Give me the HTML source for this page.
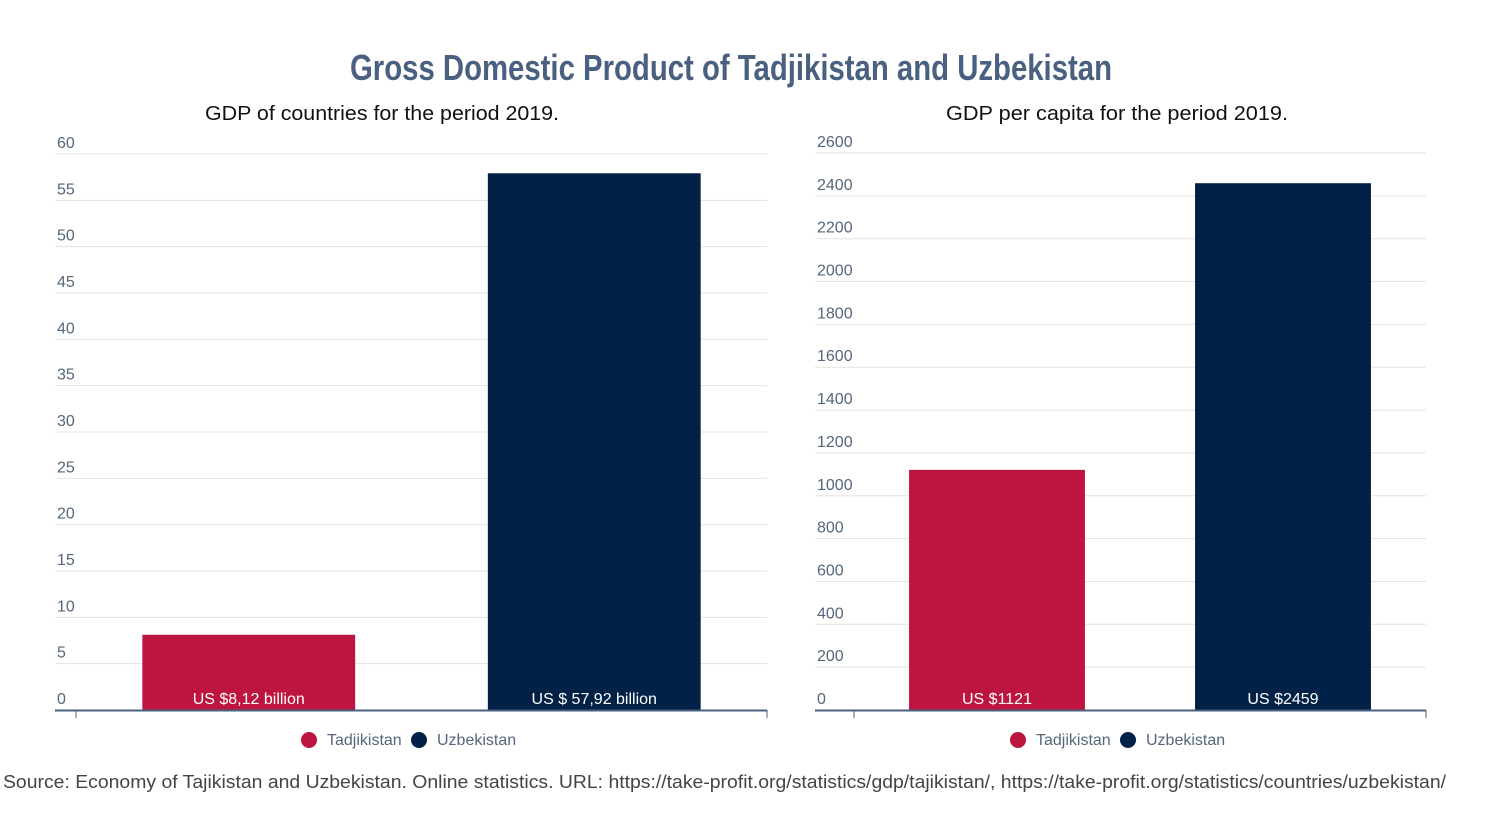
<!DOCTYPE html>
<html><head><meta charset="utf-8">
<style>
body{margin:0;background:#fff;}
svg{display:block;font-family:"Liberation Sans",sans-serif;}
</style></head>
<body>
<svg width="1500" height="827" viewBox="0 0 1500 827">
<text x="350" y="80" textLength="762" lengthAdjust="spacingAndGlyphs" font-family="'Liberation Sans Narrow','Liberation Sans',sans-serif" font-weight="bold" font-size="36" fill="#4a6080">Gross Domestic Product of Tadjikistan and Uzbekistan</text>
<text x="205" y="120" textLength="354" lengthAdjust="spacingAndGlyphs" font-size="20" fill="#111">GDP of countries for the period 2019.</text>
<text x="946" y="120" textLength="342" lengthAdjust="spacingAndGlyphs" font-size="20" fill="#111">GDP per capita for the period 2019.</text>
<g id="left"></g>
<g id="right"></g>
<text x="3" y="788" textLength="1443" lengthAdjust="spacingAndGlyphs" font-size="18" fill="#444">Source: Economy of Tajikistan and Uzbekistan. Online statistics. URL: https://take-profit.org/statistics/gdp/tajikistan/, https://take-profit.org/statistics/countries/uzbekistan/</text>
</svg>
<script>
const categories = ["Tadjikistan", "Uzbekistan"];
const gdpValues = [8.12, 57.92];
const gdpLabels = ["US $8,12 billion", "US $ 57,92 billion"];
const gdpTicks = [0,5,10,15,20,25,30,35,40,45,50,55,60];
const capitaValues = [1121, 2459];
const capitaLabels = ["US $1121", "US $2459"];
const capitaTicks = [0,200,400,600,800,1000,1200,1400,1600,1800,2000,2200,2400,2600];
const colors = ["#bd1540", "#022147"];
const NS = "http://www.w3.org/2000/svg";
function mk(tag, attrs, parent, text){
  const e = document.createElementNS(NS, tag);
  for (const k in attrs) e.setAttribute(k, attrs[k]);
  if (text !== undefined) e.textContent = text;
  parent.appendChild(e); return e;
}
function drawChart(g, cfg){
  const {x0,x1,yTop,yBase,labelX,ticks,values,labels,barFrac,legendX} = cfg;
  const max = ticks[ticks.length-1];
  const y = v => yBase - (v/max)*(yBase-yTop);
  ticks.forEach(t=>{
    const gl = mk("line",{x1:labelX-2,x2:x1,y1:y(t),y2:y(t),stroke:"#e3e3e3","stroke-width":1},g);
    
    
    const tl = mk("text",{x:labelX,y:y(t)-6,"font-size":16,fill:"#55667a"},g,String(t));
    
    
  });
  const band = (x1-x0)/categories.length;
  const bw = band*barFrac;
  categories.forEach((c,i)=>{
    const cx = x0 + band*(i+0.5);
    const r = mk("rect",{x:cx-bw/2,y:y(values[i]),width:bw,height:yBase-y(values[i]),fill:colors[i]},g);
    
    
    const l = mk("text",{x:cx,y:yBase-6,"text-anchor":"middle","font-size":16,fill:"#fff"},g,labels[i]);
    
    
  });
  const ax = mk("line",{x1:labelX-2,x2:x1,y1:yBase+0.5,y2:yBase+0.5,stroke:"#4a6080","stroke-width":2},g);
  
  
  [x0,x1].forEach(tx=>{
    const tk = mk("line",{x1:tx,x2:tx,y1:yBase,y2:yBase+8,stroke:"#4a6080","stroke-width":1},g);
    
    
  });
  let lx = legendX;
  categories.forEach((c,i)=>{
    const d = mk("circle",{cx:lx+8,cy:740,r:8,fill:colors[i]},g);
    
    
    const t = mk("text",{x:lx+26,y:745,"font-size":16,fill:"#55667a"},g,c);
    
    
    lx += 110;
  });
}
drawChart(document.getElementById("left"),{x0:76,x1:767,yTop:154,yBase:710,labelX:57,ticks:gdpTicks,values:gdpValues,labels:gdpLabels,barFrac:0.616,legendX:301});
drawChart(document.getElementById("right"),{x0:854,x1:1426,yTop:153,yBase:710,labelX:817,ticks:capitaTicks,values:capitaValues,labels:capitaLabels,barFrac:0.615,legendX:1010});
</script>
</body></html>
